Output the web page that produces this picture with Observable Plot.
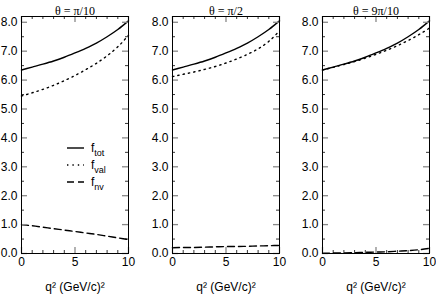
<!DOCTYPE html>
<html><head><meta charset="utf-8">
<script src="https://cdn.jsdelivr.net/npm/d3@7"></script>
<script src="https://cdn.jsdelivr.net/npm/@observablehq/plot@0.6"></script>
<style>
html,body{margin:0;padding:0;background:#fff;overflow:hidden}
#chart{position:relative;width:436px;height:294px;overflow:hidden}
#chart svg.plot{position:absolute;top:0}
.leg{position:absolute;height:14px;display:flex;align-items:center;font-family:"Liberation Sans",Arial,sans-serif;font-size:12px;color:#000;white-space:nowrap}
.leg svg{margin-right:7px}
.leg sub{font-size:9px;vertical-align:-4px;line-height:0}
</style></head><body><div id="chart"></div>
<script>
// ---- data ----
const q2 = [0, 1, 2, 3, 4, 5, 6, 7, 8, 9, 10];
const panelTitles = ["θ = π/10", "θ = π/2", "θ = 9π/10"];
const fTotA = [6.35, 6.45, 6.55, 6.66, 6.79, 6.94, 7.10, 7.28, 7.50, 7.75, 8.05];
const fValA = [5.45, 5.56, 5.68, 5.82, 5.98, 6.16, 6.36, 6.58, 6.84, 7.15, 7.55];
const fNvA  = [1.00, 0.96, 0.91, 0.86, 0.81, 0.76, 0.71, 0.66, 0.60, 0.54, 0.48];
const fTotB = [6.35, 6.45, 6.55, 6.66, 6.79, 6.94, 7.10, 7.28, 7.50, 7.75, 8.05];
const fValB = [6.12, 6.20, 6.28, 6.37, 6.47, 6.59, 6.73, 6.89, 7.08, 7.34, 7.70];
const fNvB  = [0.20, 0.21, 0.21, 0.22, 0.23, 0.24, 0.24, 0.25, 0.26, 0.27, 0.28];
const fTotC = [6.35, 6.45, 6.55, 6.66, 6.79, 6.94, 7.10, 7.28, 7.50, 7.75, 8.05];
const fValC = [6.35, 6.44, 6.54, 6.64, 6.76, 6.89, 7.03, 7.19, 7.37, 7.57, 7.80];
const fNvC  = [0.01, 0.015, 0.02, 0.03, 0.04, 0.05, 0.06, 0.08, 0.10, 0.13, 0.18];
const seriesKeys = ["tot", "val", "nv"];
const xMajor = [0, 5, 10];
const xMinor = [1, 2, 3, 4, 6, 7, 8, 9];
const xTickLabels = ["0", "5", "10"];
const yMajor = [0, 1, 2, 3, 4, 5, 6, 7, 8];
const yMinor = [0.5, 1.5, 2.5, 3.5, 4.5, 5.5, 6.5, 7.5];
const yTickLabels = ["0.0", "1.0", "2.0", "3.0", "4.0", "5.0", "6.0", "7.0", "8.0"];
const xLabel = "q² (GeV/c)²";

const panelSeries = [[fTotA, fValA, fNvA], [fTotB, fValB, fNvB], [fTotC, fValC, fNvC]];

// ---- styles ----
const dash = {tot: null, val: "1.4,4", nv: "7,4"};
const sans = "'Liberation Sans', Arial, sans-serif";
const serif = "'Liberation Serif', 'Times New Roman', serif";

const frameLefts = [21, 172, 322];
const frameW = 107, mTop = 16, mBottom = 41, H = 294, mLeft = 21;
const ph = H - mTop - mBottom;
const chart = document.getElementById("chart");

panelSeries.forEach((arrs, p) => {
  const rows = [];
  arrs.forEach((vals, s) => vals.forEach((v, i) => rows.push({q: q2[i], f: v, s: seriesKeys[s]})));
  const left = frameLefts[p] - mLeft;
  const W = Math.min(150, 436 - left);
  const mRight = W - mLeft - frameW;
  const marks = [];
  seriesKeys.forEach(k => {
    marks.push(Plot.line(rows.filter(r => r.s === k), {
      x: "q", y: "f", stroke: "black", strokeWidth: 1.4,
      strokeDasharray: dash[k], curve: "monotone-x"
    }));
  });
  const maj = {stroke: "#888", strokeWidth: 1.3};
  const mino = {stroke: "#000", strokeWidth: 0.8};
  marks.push(
    Plot.ruleX(xMajor, {x: d => d, insetTop: ph - 6, ...maj}),
    Plot.ruleX(xMajor, {x: d => d, insetBottom: ph - 6, ...maj}),
    Plot.ruleX(xMinor, {x: d => d, insetTop: ph - 3, ...mino}),
    Plot.ruleX(xMinor, {x: d => d, insetBottom: ph - 3, ...mino}),
    Plot.ruleY(yMajor, {y: d => d, insetRight: frameW - 6, ...maj}),
    Plot.ruleY(yMajor, {y: d => d, insetLeft: frameW - 6, ...maj}),
    Plot.ruleY(yMinor, {y: d => d, insetRight: frameW - 3, ...mino}),
    Plot.ruleY(yMinor, {y: d => d, insetLeft: frameW - 3, ...mino}),
    Plot.frame({stroke: "black", strokeWidth: 1}),
    Plot.axisX(xMajor, {tickSize: 0, tickPadding: 4, tickFormat: d => xTickLabels[xMajor.indexOf(d)],
      label: xLabel, labelAnchor: "center", labelOffset: 37, labelArrow: "none", fontSize: 12}),
    Plot.axisY(yMajor, {tickSize: 0, tickPadding: 4, tickFormat: d => yTickLabels[yMajor.indexOf(d)],
      label: null, fontSize: 12}),
    Plot.text([panelTitles[p]], {text: d => d, frameAnchor: "top", dy: -10, fontFamily: serif, fontSize: 12})
  );
  const svg = Plot.plot({
    width: W, height: H,
    marginLeft: mLeft, marginRight: mRight, marginTop: mTop, marginBottom: mBottom,
    x: {domain: [0, 10]},
    y: {domain: [0, 8.2]},
    style: {fontFamily: sans, fontSize: "12px", background: "transparent", overflow: "visible", color: "black"},
    marks
  });
  svg.classList.add("plot");
  svg.style.left = left + "px";
  chart.appendChild(svg);
});

// ---- legend (inside first panel) ----
const legTops = [141, 158, 175];
seriesKeys.forEach((k, i) => {
  const div = document.createElement("div");
  div.className = "leg";
  div.style.left = "67px";
  div.style.top = legTops[i] + "px";
  div.innerHTML = `<svg width="17" height="14"><line x1="0" x2="17" y1="7" y2="7" stroke="black" stroke-width="1.4" ${dash[k] ? `stroke-dasharray="${dash[k]}"` : ""}></line></svg><span>f<sub>${k}</sub></span>`;
  chart.appendChild(div);
});
</script></body></html>
